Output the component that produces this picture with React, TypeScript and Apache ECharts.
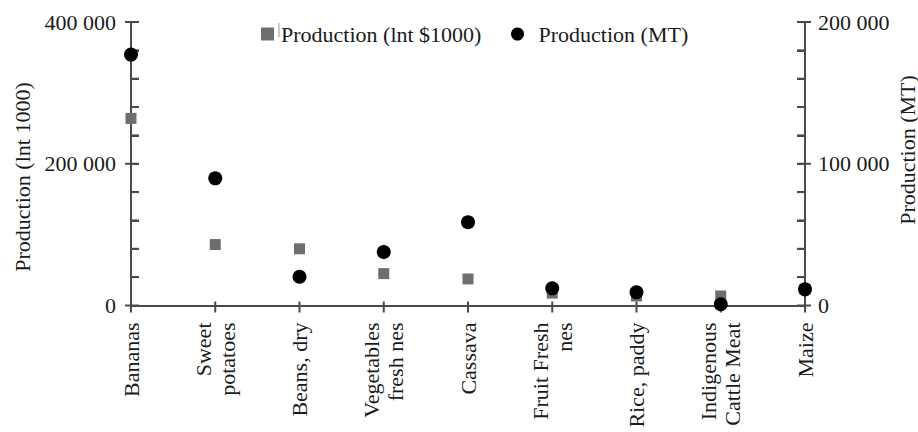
import React, { useEffect, useRef } from "react";
import * as echarts from "echarts";

const categories = [
  "Bananas",
  "Sweet\npotatoes",
  "Beans, dry",
  "Vegetables\nfresh nes",
  "Cassava",
  "Fruit Fresh\nnes",
  "Rice, paddy",
  "Indigenous\nCattle Meat",
  "Maize",
];

// Production (Int $1000) – left axis
const productionValue = [264000, 86000, 80000, 45000, 37500, 17500, 13400, 13400, 23000];
// Production (MT) – right axis
const productionMT = [177000, 89700, 20300, 37700, 58700, 12100, 9300, 900, 11400];

// axis tick values (left: Int 1000, right: MT)
const leftMajorTicks = [0, 200000, 400000];
const leftMinorTicks = [40000, 80000, 120000, 160000, 240000, 280000, 320000, 360000];
const rightMajorTicks = [0, 100000, 200000];
const rightMinorTicks = [20000, 40000, 60000, 80000, 120000, 140000, 160000, 180000];

const seriesNames = ["Production (lnt $1000)", "Production (MT)"];
const axisTitles = ["Production (lnt 1000)", "Production (MT)"];

const FONT = "'Liberation Serif', 'Times New Roman', serif";
const TEXT = "#1a1a1a";
const AXIS = "#4a4a4a";

const fmt = (v: number) => String(v).replace(/\B(?=(\d{3})+(?!\d))/g, " ");

export default function App() {
  const ref = useRef<HTMLDivElement>(null);
  useEffect(() => {
    if (!ref.current) return;
    const chart = echarts.init(ref.current, null, { renderer: "svg" });
    const line = () => ({ show: true, lineStyle: { color: AXIS, width: 2 } });
    const labelStyle = () => ({ fontFamily: FONT, fontSize: 22, color: TEXT });
    const lastIdx = categories.length - 1;

    // tick marks drawn through the axes' own scales (api.coord)
    const tickSeries = (
      yAxisIndex: number,
      data: number[][],
      draw: (p: number[], kind: number) => { x1: number; y1: number; x2: number; y2: number }
    ) => ({
      type: "custom",
      coordinateSystem: "cartesian2d",
      xAxisIndex: 0,
      yAxisIndex,
      silent: true,
      clip: false,
      z: 5,
      data,
      renderItem: (_params: any, api: any) => {
        const p = api.coord([api.value(0), api.value(1)]);
        return {
          type: "line",
          shape: draw(p, api.value(2)),
          style: { stroke: AXIS, lineWidth: 2 },
        };
      },
    });

    chart.setOption({
      animation: false,
      grid: { left: 131, right: 113, top: 22, bottom: 126.5 },
      legend: [
        {
          data: [seriesNames[0]],
          left: 261,
          top: 23,
          padding: 0,
          itemWidth: 13,
          itemHeight: 13,
          textStyle: { ...labelStyle(), padding: [0, 0, 0, 2] },
        },
        {
          data: [seriesNames[1]],
          left: 511,
          top: 23,
          padding: 0,
          itemWidth: 32,
          itemHeight: 13,
          textStyle: labelStyle(),
        },
      ],
      xAxis: {
        type: "category",
        data: categories,
        boundaryGap: false,
        axisLine: line(),
        axisTick: { show: false },
        axisLabel: { ...labelStyle(), rotate: 90, margin: 17, lineHeight: 24, interval: 0 },
        splitLine: { show: false },
      },
      yAxis: [
        {
          type: "value",
          position: "left",
          min: 0,
          max: 400000,
          interval: 200000,
          axisLine: line(),
          axisTick: { show: true, inside: true, length: 8, lineStyle: { color: AXIS, width: 2 } },
          minorTick: { show: true, splitNumber: 5, length: 8, lineStyle: { color: AXIS, width: 2 } },
          axisLabel: { ...labelStyle(), margin: 15, formatter: fmt },
          splitLine: { show: false },
        },
        {
          type: "value",
          position: "right",
          min: 0,
          max: 200000,
          interval: 100000,
          axisLine: line(),
          axisTick: { show: true, inside: true, length: 8, lineStyle: { color: AXIS, width: 2 } },
          minorTick: { show: true, splitNumber: 5, length: 8, lineStyle: { color: AXIS, width: 2 } },
          axisLabel: { ...labelStyle(), margin: 13, formatter: fmt },
          splitLine: { show: false },
        },
      ],
      series: [
        {
          name: seriesNames[0],
          type: "scatter",
          xAxisIndex: 0,
          yAxisIndex: 0,
          symbol: "rect",
          symbolSize: 11,
          itemStyle: { color: "#6e6e6e", opacity: 1 },
          data: productionValue,
          z: 6,
        },
        {
          name: seriesNames[1],
          type: "scatter",
          xAxisIndex: 0,
          yAxisIndex: 1,
          symbol: "circle",
          symbolSize: 14,
          itemStyle: { color: "#000000", opacity: 1 },
          data: productionMT,
          z: 7,
        },
        tickSeries(
          0,
          [...leftMajorTicks.map((v) => [0, v, 1]), ...leftMinorTicks.map((v) => [0, v, 0])],
          (p, major) => ({ x1: p[0] - (major ? 6 : 0), y1: p[1], x2: p[0] + 8, y2: p[1] })
        ),
        tickSeries(
          1,
          [...rightMajorTicks.map((v) => [lastIdx, v, 1]), ...rightMinorTicks.map((v) => [lastIdx, v, 0])],
          (p, major) => ({ x1: p[0] - 8, y1: p[1], x2: p[0] + (major ? 6 : 0), y2: p[1] })
        ),
        tickSeries(
          0,
          categories.map((_c, i) => [i, 0, 1]),
          (p) => ({ x1: p[0], y1: p[1] - 4, x2: p[0], y2: p[1] + 7 })
        ),
      ],
      graphic: [
        {
          type: "line",
          shape: { x1: 279, y1: 23, x2: 279, y2: 37 },
          style: { stroke: "#9a9a9a", lineWidth: 1 },
        },
        {
          type: "text",
          x: 22,
          y: 177,
          rotation: Math.PI / 2,
          style: {
            text: axisTitles[0],
            fontFamily: FONT,
            fontSize: 22,
            fill: TEXT,
            align: "center",
            verticalAlign: "middle",
          },
        },
        {
          type: "text",
          x: 907,
          y: 150,
          rotation: Math.PI / 2,
          style: {
            text: axisTitles[1],
            fontFamily: FONT,
            fontSize: 22,
            fill: TEXT,
            align: "center",
            verticalAlign: "middle",
          },
        },
      ],
    });
    return () => chart.dispose();
  }, []);
  return (
    <div
      ref={ref}
      style={{ position: "fixed", left: 0, top: 0, width: 918, height: 432, background: "#fff" }}
    />
  );
}
